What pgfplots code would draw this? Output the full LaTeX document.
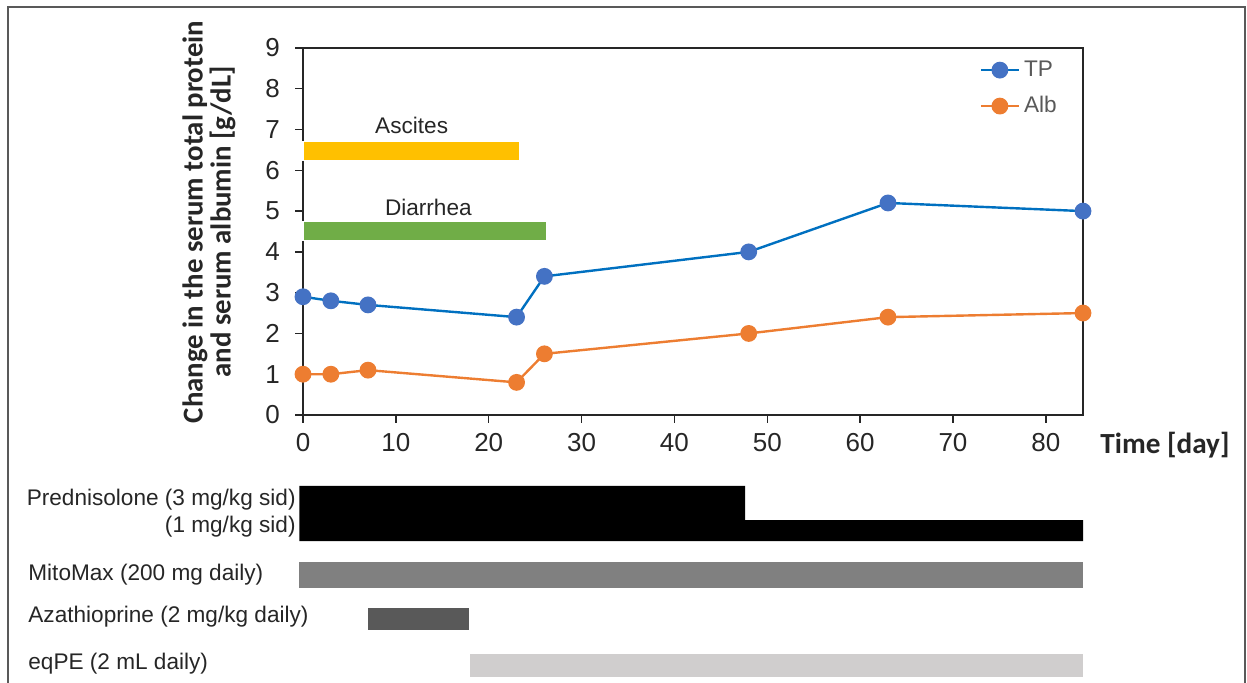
\documentclass[border=0pt]{standalone}
\usepackage{fontspec}
\setmainfont{Liberation Sans}
\newfontfamily\calibri{Carlito}
\usepackage{pgfplots}
\pgfplotsset{compat=1.18}
\definecolor{tpline}{HTML}{0070C0}
\definecolor{tpmark}{HTML}{4472C4}
\definecolor{alb}{HTML}{ED7D31}
\definecolor{asc}{HTML}{FFC000}
\definecolor{dia}{HTML}{70AD47}
\definecolor{mito}{HTML}{808080}
\definecolor{aza}{HTML}{595959}
\definecolor{eqpe}{HTML}{D0CECE}
\definecolor{txt}{HTML}{262626}
\definecolor{framec}{HTML}{595959}

\begin{document}
\begin{tikzpicture}
\useasboundingbox (0,0) rectangle (623.5pt,-341.5pt);
\draw[framec, line width=1pt] (4pt,-341.5pt) -- (4pt,-3.5pt) -- (622.5pt,-3.5pt) -- (622.5pt,-341.5pt);

% serum protein chart
\begin{axis}[
  at={(151.5pt,-207.5pt)}, anchor=south west,
  scale only axis, width=390pt, height=183.5pt,
  xmin=0, xmax=84, ymin=0, ymax=9,
  xtick={0,10,...,80}, ytick={0,1,...,9},
  tick align=outside, xtick pos=bottom, ytick pos=left,
  major tick length=4pt,
  axis line style={txt, line width=0.7pt},
  tick style={txt, line width=0.7pt},
  ticklabel style={font=\fontsize{13}{14}\selectfont, text=txt},
  yticklabel style={xshift=-4pt},
  xticklabel style={yshift=-1.5pt},
  /pgf/number format/assume math mode=true,
  clip=false,
  legend style={at={(0.972,0.977)}, anchor=north east, draw=none, fill=none,
    font=\fontsize{11.3}{13}\selectfont, text=aza, row sep=4.5pt,
    inner sep=0pt},
  legend cell align=left,
  legend image code/.code={
    \draw[mark repeat=2, mark phase=2] plot coordinates {(0pt,0pt) (9.5pt,0pt) (19pt,0pt)};},
]
\addplot[fill=asc, draw=white, line width=0.6pt, forget plot]
  coordinates {(0,6.25) (23.3,6.25) (23.3,6.7) (0,6.7)} -- cycle;
\addplot[fill=dia, draw=white, line width=0.6pt, forget plot]
  coordinates {(0,4.27) (26.2,4.27) (26.2,4.75) (0,4.75)} -- cycle;
\node[txt, font=\fontsize{11.3}{13}\selectfont] at (axis cs:11.7,7.1) {Ascites};
\node[txt, font=\fontsize{11.3}{13}\selectfont] at (axis cs:13.5,5.1) {Diarrhea};

\addplot[tpline, line width=1.2pt, mark=*, mark size=3.6pt,
  mark options={fill=tpmark, draw=tpmark}]
  coordinates {(0,2.9) (3,2.8) (7,2.7) (23,2.4) (26,3.4) (48,4.0) (63,5.2) (84,5.0)};
\addplot[alb, line width=1.2pt, mark=*, mark size=3.6pt,
  mark options={fill=alb, draw=alb}]
  coordinates {(0,1.0) (3,1.0) (7,1.1) (23,0.8) (26,1.5) (48,2.0) (63,2.4) (84,2.5)};
\legend{TP, Alb}
\end{axis}

\node[rotate=90, align=center, txt, font=\calibri\bfseries\fontsize{14.4}{14}\selectfont]
  at (104.5pt,-111pt) {Change in the serum total protein\\and serum albumin [g/dL]};
\node[anchor=west, inner sep=0pt, txt, font=\calibri\bfseries\fontsize{14.6}{15}\selectfont]
  at (550pt,-222.5pt) {Time [day]};

% treatment timeline
\begin{axis}[
  at={(151.5pt,-341.5pt)}, anchor=south west,
  scale only axis, width=390pt, height=101.5pt,
  xmin=0, xmax=84, ymin=0, ymax=203,
  hide axis, clip=false,
]
\addplot[fill=black, draw=none]
  coordinates {(-0.4,142) (84,142) (84,163) (47.6,163) (47.6,197) (-0.4,197)} -- cycle;
\addplot[fill=mito, draw=none]
  coordinates {(-0.4,95) (84,95) (84,121) (-0.4,121)} -- cycle;
\addplot[fill=aza, draw=none]
  coordinates {(7,53) (17.9,53) (17.9,75) (7,75)} -- cycle;
\addplot[fill=eqpe, draw=none]
  coordinates {(18,6) (84,6) (84,29) (18,29)} -- cycle;
\end{axis}

\begin{scope}[every node/.style={txt, inner sep=0pt, font=\fontsize{11.3}{13.5}\selectfont}]
\node[anchor=east, align=right] at (148pt,-256.75pt) {Prednisolone (3 mg/kg sid)\\(1 mg/kg sid)};
\node[anchor=west] at (14pt,-287.5pt) {MitoMax (200 mg daily)};
\node[anchor=west] at (14pt,-308.5pt) {Azathioprine (2 mg/kg daily)};
\node[anchor=west] at (14pt,-332pt) {eqPE (2 mL daily)};
\end{scope}
\end{tikzpicture}
\end{document}
